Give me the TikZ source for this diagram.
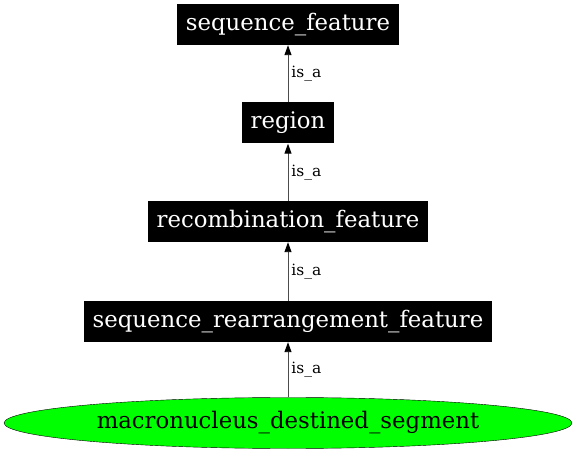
\documentclass[tikz,border=0pt]{standalone}
\usepackage{fontspec}
\setmainfont{DejaVu Serif}
\usetikzlibrary{positioning,shapes.geometric,arrows.meta}
\tikzset{
    termbox/.style={fill=black, text=white, font=\fontsize{22.8}{26}\selectfont, minimum height=41pt, inner xsep=9pt, inner ysep=0pt},
    leafnode/.style={ellipse, draw=black, fill=green, font=\fontsize{22.8}{26}\selectfont, minimum height=51pt, minimum width=568pt, inner sep=0pt},
    isaedge/.style={-{Triangle[length=10pt,width=7pt,color=black]}, black!70, line width=0.9pt},
    isalabel/.style={right, font=\fontsize{15.5}{18}\selectfont, text=black, inner xsep=3pt}
}
\begin{document}
\begin{tikzpicture}[x=1pt,y=-1pt]
        % Frame
        \useasboundingbox (0,0) rectangle (576,454);
        
        % Terms
        \node[termbox] (seqfeat) at (288,24.5) {sequence\_feature};
        \node[termbox] (region) at (288,123) {region};
        \node[termbox] (recomb) at (288,221.5) {recombination\_feature};
        \node[termbox] (rearr) at (288,321.5) {sequence\_rearrangement\_feature};
        
        % Leaf term
        \node[leafnode] (macro) at (288,423) {macronucleus\_destined\_segment};
        
        % is_a links
        \draw[isaedge] (region) -- node[isalabel] {is\_a} (seqfeat);
        \draw[isaedge] (recomb) -- node[isalabel] {is\_a} (region);
        \draw[isaedge] (rearr) -- node[isalabel] {is\_a} (recomb);
        \draw[isaedge] (macro) -- node[isalabel] {is\_a} (rearr);
    \end{tikzpicture}
\end{document}
